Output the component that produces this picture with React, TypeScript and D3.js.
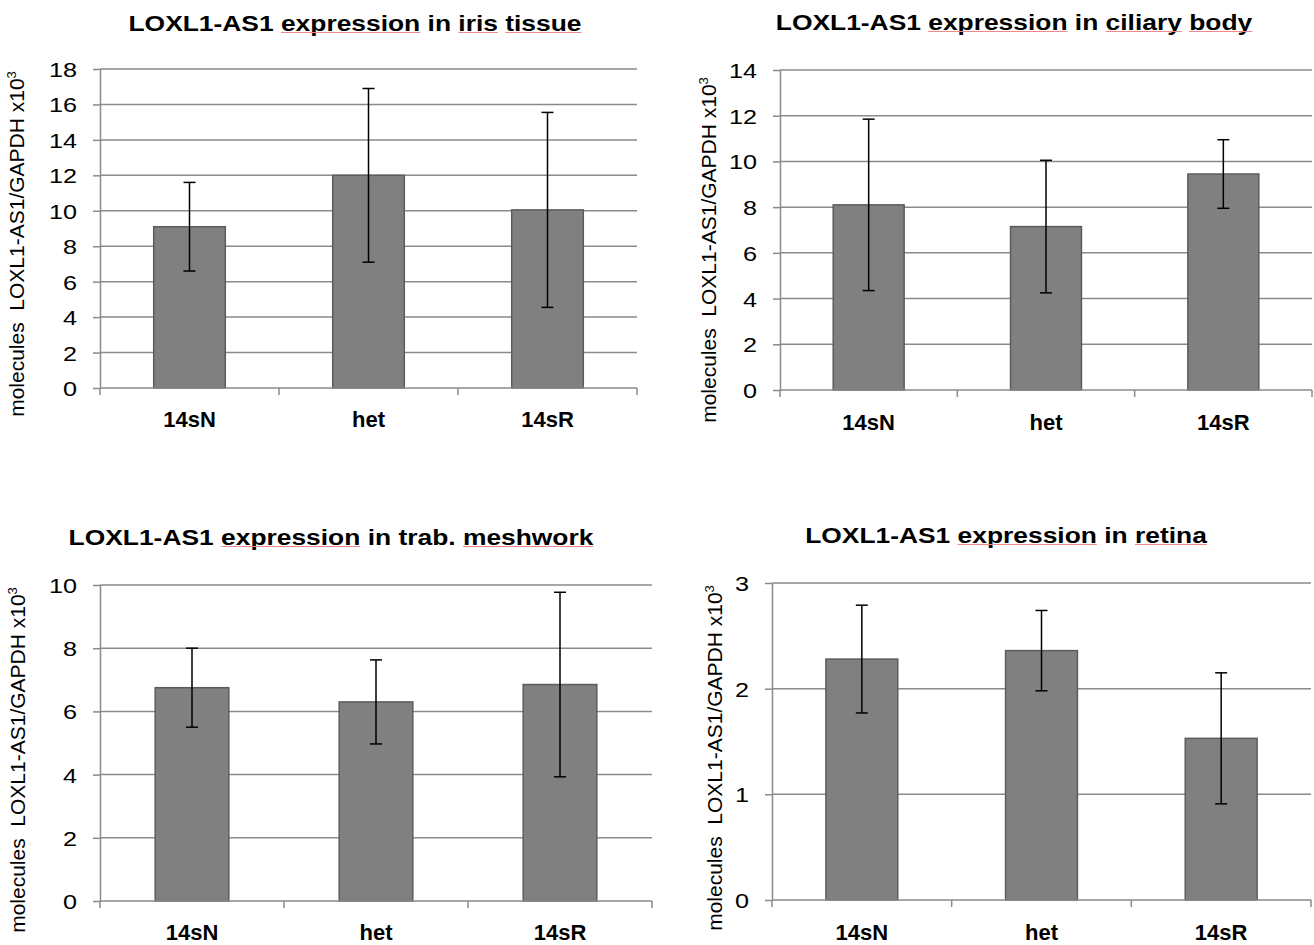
import React, { useEffect, useRef } from 'react';
import * as d3 from 'd3';

// categories shared by all four panels
const categories = ['14sN', 'het', '14sR'];

// mean and error (±) per tissue
const irisMean = [9.1, 12.0, 10.05];
const irisErr = [2.5, 4.9, 5.5];
const ciliaryMean = [8.1, 7.15, 9.45];
const ciliaryErr = [3.75, 2.9, 1.5];
const trabMean = [6.75, 6.3, 6.85];
const trabErr = [1.25, 1.33, 2.92];
const retinaMean = [2.28, 2.36, 1.53];
const retinaErr = [0.51, 0.38, 0.62];

// y tick labels
const irisTicks = [0, 2, 4, 6, 8, 10, 12, 14, 16, 18];
const ciliaryTicks = [0, 2, 4, 6, 8, 10, 12, 14];
const trabTicks = [0, 2, 4, 6, 8, 10];
const retinaTicks = [0, 1, 2, 3];

const titles = [
  'LOXL1-AS1 expression in iris tissue',
  'LOXL1-AS1 expression in ciliary body',
  'LOXL1-AS1 expression in trab. meshwork',
  'LOXL1-AS1 expression in retina',
];
// words marked by the spell checker in the original
const flagged = [
  ['expression', 'iris', 'tissue'],
  ['expression', 'ciliary', 'body'],
  ['expression', 'meshwork'],
  ['expression', 'retina'],
];

const panels = [
  { title: titles[0], flags: flagged[0], mean: irisMean, err: irisErr, ticks: irisTicks },
  { title: titles[1], flags: flagged[1], mean: ciliaryMean, err: ciliaryErr, ticks: ciliaryTicks },
  { title: titles[2], flags: flagged[2], mean: trabMean, err: trabErr, ticks: trabTicks },
  { title: titles[3], flags: flagged[3], mean: retinaMean, err: retinaErr, ticks: retinaTicks },
];

// where each panel sits on the page
const layout = [
  { x0: 100, x1: 637, yTop: 69, yBot: 388, titleX: 355, titleY: 31, catY: 427, yTitleX: 24, yTitleY: 244 },
  { x0: 780, x1: 1312, yTop: 70, yBot: 390, titleX: 1014, titleY: 30, catY: 430, yTitleX: 716, yTitleY: 250 },
  { x0: 100, x1: 652, yTop: 585, yBot: 901, titleX: 331, titleY: 545, catY: 940, yTitleX: 25, yTitleY: 760 },
  { x0: 772, x1: 1311, yTop: 583, yBot: 900, titleX: 1006, titleY: 543, catY: 940, yTitleX: 722, yTitleY: 758 },
];

const FONT = '"Liberation Sans", Arial, Helvetica, sans-serif';
const SX = 1.2; // the original is stretched horizontally
const GRID = '#8a8a8a';

const App = () => {
  const ref = useRef(null);

  useEffect(() => {
    const svg = d3.select(ref.current);
    svg.selectAll('*').remove();

    panels.forEach((p, i) => {
      const lay = layout[i];
      const g = svg.append('g');
      const yMax = p.ticks[p.ticks.length - 1];

      const x = d3.scaleBand()
        .domain(categories)
        .range([lay.x0, lay.x1])
        .paddingInner(0.6)
        .paddingOuter(0.3);
      const y = d3.scaleLinear().domain([0, yMax]).range([lay.yBot, lay.yTop]);
      const edges = d3.scaleLinear().domain([0, categories.length]).range([lay.x0, lay.x1]);

      // gridlines
      g.append('g')
        .selectAll('line')
        .data(p.ticks.filter(t => t > 0))
        .join('line')
          .attr('x1', lay.x0)
          .attr('x2', lay.x1)
          .attr('y1', d => y(d))
          .attr('y2', d => y(d))
          .attr('stroke', GRID)
          .attr('stroke-width', 1.5);

      // bars
      g.append('g')
        .selectAll('rect')
        .data(categories)
        .join('rect')
          .attr('x', d => x(d))
          .attr('y', (d, j) => y(p.mean[j]))
          .attr('width', x.bandwidth())
          .attr('height', (d, j) => lay.yBot - y(p.mean[j]))
          .attr('fill', '#808080')
          .attr('stroke', '#5c5c5c')
          .attr('stroke-width', 1.5);

      // error bars
      const eb = g.append('g')
        .selectAll('g')
        .data(categories)
        .join('g')
          .attr('transform', d => `translate(${x(d) + x.bandwidth() / 2},0)`)
          .attr('stroke', '#000')
          .attr('stroke-width', 1.5);
      eb.append('line')
        .attr('y1', (d, j) => y(p.mean[j] - p.err[j]))
        .attr('y2', (d, j) => y(p.mean[j] + p.err[j]));
      eb.append('line')
        .attr('x1', -6).attr('x2', 6)
        .attr('y1', (d, j) => y(p.mean[j] + p.err[j]))
        .attr('y2', (d, j) => y(p.mean[j] + p.err[j]));
      eb.append('line')
        .attr('x1', -6).attr('x2', 6)
        .attr('y1', (d, j) => y(p.mean[j] - p.err[j]))
        .attr('y2', (d, j) => y(p.mean[j] - p.err[j]));

      // y axis
      const yAxis = g.append('g')
        .attr('transform', `translate(${lay.x0},0)`)
        .call(d3.axisLeft(y).tickValues(p.ticks).tickFormat(d3.format('d')).tickSize(7).tickSizeOuter(0));
      yAxis.select('.domain').attr('stroke', GRID).attr('stroke-width', 1.5);
      yAxis.selectAll('.tick line').attr('stroke', GRID).attr('stroke-width', 1.5);
      yAxis.selectAll('.tick text')
        .attr('x', null)
        .attr('dy', null)
        .attr('y', 7.5)
        .attr('transform', `translate(-23,0) scale(${SX},1)`)
        .attr('text-anchor', 'end')
        .attr('fill', '#000')
        .style('font-family', FONT)
        .style('font-size', '21px');

      // x axis line with ticks at category edges
      g.append('line')
        .attr('x1', lay.x0).attr('x2', lay.x1)
        .attr('y1', lay.yBot).attr('y2', lay.yBot)
        .attr('stroke', GRID).attr('stroke-width', 1.5);
      g.append('g')
        .selectAll('line')
        .data(d3.range(categories.length + 1))
        .join('line')
          .attr('x1', d => edges(d)).attr('x2', d => edges(d))
          .attr('y1', lay.yBot).attr('y2', lay.yBot + 7)
          .attr('stroke', GRID).attr('stroke-width', 1.5);

      // category labels
      g.append('g')
        .selectAll('text')
        .data(categories)
        .join('text')
          .attr('x', d => x(d) + x.bandwidth() / 2)
          .attr('y', lay.catY)
          .attr('text-anchor', 'middle')
          .style('font-family', FONT)
          .style('font-size', '22px')
          .style('font-weight', 'bold')
          .text(d => d);

      // title, with the spell-check underlines
      const tg = g.append('g')
        .attr('transform', `translate(${lay.titleX},${lay.titleY}) scale(${SX},1)`);
      const title = tg.append('text')
        .attr('text-anchor', 'middle')
        .style('font-family', FONT)
        .style('font-size', '22px')
        .style('font-weight', 'bold')
        .text(p.title);
      const node = title.node();
      p.flags.forEach(w => {
        const s = p.title.indexOf(w);
        if (s < 0) return;
        const a = node.getStartPositionOfChar(s).x;
        const b = node.getEndPositionOfChar(s + w.length - 1).x;
        tg.append('line')
          .attr('x1', a).attr('x2', b)
          .attr('y1', 1.5).attr('y2', 1.5)
          .attr('stroke', '#f08a8a')
          .attr('stroke-width', 1);
      });

      // rotated y axis title
      const yt = g.append('text')
        .attr('transform', `translate(${lay.yTitleX},${lay.yTitleY}) rotate(-90)`)
        .attr('text-anchor', 'middle')
        .style('font-family', FONT)
        .style('font-size', '21px')
        .style('white-space', 'pre');
      yt.append('tspan').text('molecules  LOXL1-AS1/GAPDH x10');
      yt.append('tspan').attr('dy', -8).style('font-size', '13px').text('3');
    });
  }, []);

  return (
    <div style={{ position: 'absolute', left: 0, top: 0, background: '#fff' }}>
      <svg ref={ref} width={1314} height={945} style={{ display: 'block' }} />
    </div>
  );
};

export default App;
